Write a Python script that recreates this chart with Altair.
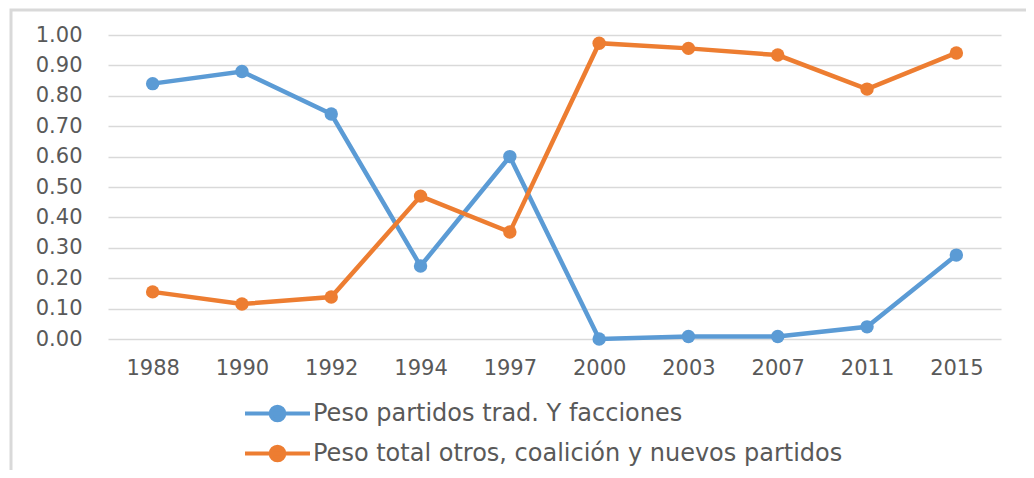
import altair as alt
import pandas as pd

years = ["1988", "1990", "1992", "1994", "1997", "2000", "2003", "2007", "2011", "2015"]
trad = [0.84, 0.88, 0.74, 0.24, 0.60, 0.00, 0.008, 0.008, 0.04, 0.276]
otros = [0.155, 0.115, 0.138, 0.47, 0.352, 0.973, 0.956, 0.934, 0.822, 0.941]
series_names = ["Peso partidos trad. Y facciones",
                "Peso total otros, coalición y nuevos partidos"]
colors = ["#5B9BD5", "#ED7D31"]
y_ticks = [0.0, 0.1, 0.2, 0.3, 0.4, 0.5, 0.6, 0.7, 0.8, 0.9, 1.0]

rows = []
for name, vals in zip(series_names, [trad, otros]):
    for yr, v in zip(years, vals):
        rows.append({"year": yr, "value": v, "series": name})
df = pd.DataFrame(rows)

FONT = "DejaVu Sans"
TXT = "#595959"
sym = "M-2,0L2,0M-0.42,0A0.42,0.42,0,1,1,0.42,0A0.42,0.42,0,1,1,-0.42,0Z"

border = alt.Chart(pd.DataFrame({"k": [0]})).mark_rect(
    fill="transparent", stroke="#D9D9D9", strokeWidth=3
).encode(
    x=alt.value(-97), x2=alt.value(1200), y=alt.value(-25), y2=alt.value(700)
)

lines = alt.Chart(df).mark_line(
    strokeWidth=4.5,
    point=alt.OverlayMarkDef(filled=True, size=180, opacity=1),
).encode(
    x=alt.X("year:O", sort=years,
            scale=alt.Scale(padding=0.5),
            axis=alt.Axis(title=None, labelAngle=0, domain=False, ticks=False,
                          grid=False, labelPadding=18)),
    y=alt.Y("value:Q",
            scale=alt.Scale(domain=[0, 1], nice=False, zero=True),
            axis=alt.Axis(title=None, values=y_ticks, format=".2f", domain=False,
                          ticks=False, grid=True, gridColor="#D9D9D9",
                          gridWidth=1.5, labelPadding=26)),
    color=alt.Color("series:N",
                    scale=alt.Scale(domain=series_names, range=colors),
                    legend=alt.Legend(
                        title=None, orient="none", legendX=151, legendY=360,
                        direction="vertical", symbolType=sym, symbolSize=1056,
                        symbolStrokeWidth=4, labelOffset=17, rowPadding=6,
                        symbolOpacity=1,
                    )),
    order=alt.Order("year:O"),
)

chart = alt.layer(border, lines).properties(
    width=893, height=304,
    autosize=alt.AutoSizeParams(type="none"),
    padding={"left": 100, "top": 27, "right": 25, "bottom": 131},
).configure_view(stroke=None).configure_axis(
    labelFont=FONT, labelFontSize=21, labelColor=TXT
).configure_legend(
    labelFont=FONT, labelFontSize=24, labelColor=TXT, labelLimit=0
)

chart.save("out.html", embed_options={"renderer": "svg", "actions": False})
